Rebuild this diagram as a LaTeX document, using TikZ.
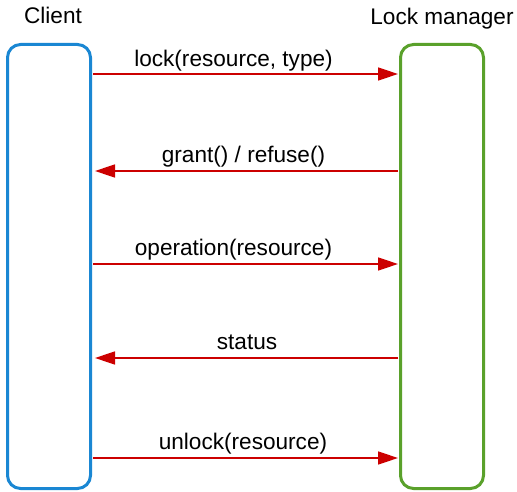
\documentclass[tikz,border=0pt]{standalone}
\usepackage{fontspec}
\setmainfont{Liberation Sans}
\usetikzlibrary{arrows.meta}
\definecolor{clientblue}{HTML}{1A87D3}
\definecolor{lmgreen}{HTML}{5AA12B}
\definecolor{msgred}{HTML}{CC0000}
\tikzset{
  lane/.style={draw, line width=3pt, rounded corners=13pt, fill=white,
    minimum width=83pt, minimum height=444pt, inner sep=0pt},
  title/.style={font=\fontsize{22.6}{26}\selectfont, anchor=base, inner sep=0pt},
  msglabel/.style={font=\fontsize{22.6}{26}\selectfont, anchor=base, inner sep=0pt},
  msg/.style={draw=msgred, line width=1.5pt,
    -{Triangle[length=20pt,width=13pt]}, fill=msgred},
  fwd/.style={msg, shorten <=1pt, shorten >=1pt},
  back/.style={msg, shorten <=1pt, shorten >=3pt}
}
\begin{document}
\begin{tikzpicture}[x=1pt,y=-1pt]
  \useasboundingbox (0,0) rectangle (517,492);

  % participants
  \node[lane, draw=clientblue] (client) at (49,266.5) {};
  \node[lane, draw=lmgreen] (lm) at (442,266.5) {};
  \node[title] (clientT) at (53,24) {Client};
  \node[title] (lmT) at (442,25) {Lock manager};

  % message rows
  \foreach \n/\y in {a/74, b/171, c/264, d/358, e/458} {
    \coordinate (c\n) at (client.east |- 0,\y);
    \coordinate (l\n) at (lm.west |- 0,\y);
  }

  \draw[fwd] (ca) -- (la);
  \draw[back] (lb) -- (cb);
  \draw[fwd] (cc) -- (lc);
  \draw[back] (ld) -- (cd);
  \draw[fwd] (ce) -- (le);

  \node[msglabel] (ma) at (233.5,66.5) {lock(resource, type)};
  \node[msglabel] (mb) at (243.5,162.5) {grant() / refuse()};
  \node[msglabel] (mc) at (233.5,255) {operation(resource)};
  \node[msglabel] (md) at (247,349.5) {status};
  \node[msglabel] (me) at (243,449) {unlock(resource)};
\end{tikzpicture}
\end{document}
